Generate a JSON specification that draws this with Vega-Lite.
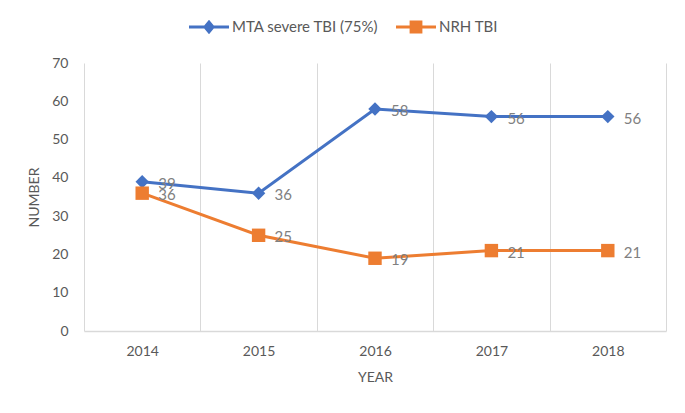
{
  "$schema": "https://vega.github.io/schema/vega-lite/v6.json",
  "width": 582,
  "height": 268,
  "autosize": {"type": "none"},
  "padding": {"left": 84, "top": 63, "right": 19, "bottom": 82},
  "background": "white",
  "config": {
    "view": {"stroke": null},
    "font": "Lato",
    "axis": {"labelFont": "Lato", "titleFont": "Lato", "labelColor": "#595959", "titleColor": "#595959", "labelFontSize": 14, "titleFontSize": 14, "titleFontWeight": "normal"}
  },
  "data": {
    "values": [
      {"year": "2014", "series": "MTA severe TBI (75%)", "value": 39},
      {"year": "2015", "series": "MTA severe TBI (75%)", "value": 36},
      {"year": "2016", "series": "MTA severe TBI (75%)", "value": 58},
      {"year": "2017", "series": "MTA severe TBI (75%)", "value": 56},
      {"year": "2018", "series": "MTA severe TBI (75%)", "value": 56},
      {"year": "2014", "series": "NRH TBI", "value": 36},
      {"year": "2015", "series": "NRH TBI", "value": 25},
      {"year": "2016", "series": "NRH TBI", "value": 19},
      {"year": "2017", "series": "NRH TBI", "value": 21},
      {"year": "2018", "series": "NRH TBI", "value": 21}
    ]
  },
  "encoding": {
    "x": {
      "field": "year", "type": "ordinal", "bandPosition": 0.5,
      "scale": {"type": "band", "paddingInner": 0, "paddingOuter": 0},
      "axis": {"title": "YEAR", "labelAngle": 0, "grid": true, "gridColor": "#d9d9d9", "tickBand": "extent", "ticks": false, "domainColor": "#d9d9d9", "domainWidth": 1.5, "labelPadding": 13, "titlePadding": 12}
    },
    "y": {
      "field": "value", "type": "quantitative",
      "scale": {"domain": [0, 70], "nice": false},
      "axis": {"title": "NUMBER", "values": [0, 10, 20, 30, 40, 50, 60, 70], "grid": false, "domain": false, "ticks": false, "labelPadding": 16, "titlePadding": 10}
    }
  },
  "layer": [
    {
      "mark": {"type": "line", "strokeWidth": 3},
      "encoding": {
        "color": {
          "field": "series", "type": "nominal",
          "scale": {"domain": ["MTA severe TBI (75%)", "NRH TBI"], "range": ["#4472C4", "#ED7D31"]},
          "legend": {
            "title": null, "orient": "none", "direction": "horizontal", "legendX": 105, "legendY": -56,
            "symbolSize": 1600, "symbolStrokeWidth": 0, "labelFontSize": 15, "labelColor": "#595959", "labelFont": "Lato", "labelOffset": 3, "columnPadding": 17,
            "encode": {"symbols": {"update": {
              "shape": {"signal": "datum.value === 'NRH TBI' ? 'M-1,-0.075L1,-0.075L1,0.075L-1,0.075Z M-0.32,-0.32L0.32,-0.32L0.32,0.32L-0.32,0.32Z' : 'M-1,-0.075L1,-0.075L1,0.075L-1,0.075Z M0,-0.36L0.3,0L0,0.36L-0.3,0Z'"},
              "fill": {"signal": "datum.value === 'NRH TBI' ? '#ED7D31' : '#4472C4'"},
              "fillOpacity": {"value": 1},
              "strokeWidth": {"value": 0}
            }}}
          }
        }
      }
    },
    {
      "mark": {"type": "point", "filled": true, "opacity": 1, "size": 180},
      "encoding": {
        "fill": {"condition": {"test": "datum.series === 'NRH TBI'", "value": "#ED7D31"}, "value": "#4472C4"},
        "shape": {"condition": {"test": "datum.series === 'NRH TBI'", "value": "square"}, "value": "diamond"}
      }
    },
    {
      "mark": {"type": "text", "align": "left", "baseline": "middle", "dx": 16, "dy": 2, "fontSize": 15, "font": "Lato", "color": "#808080"},
      "encoding": {"text": {"field": "value"}}
    }
  ]
}
